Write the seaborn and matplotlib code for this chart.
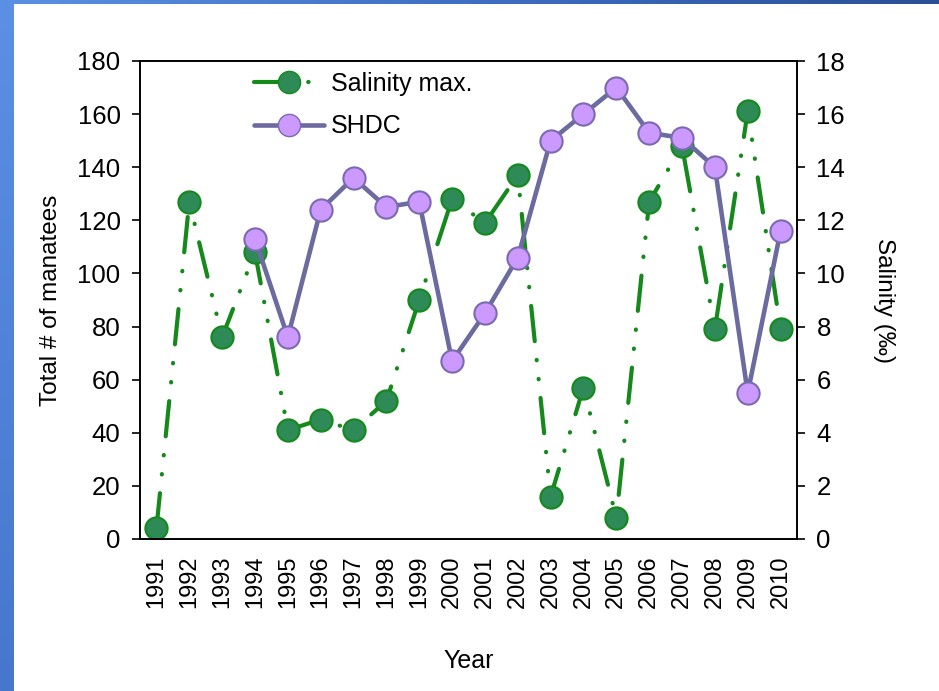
import numpy as np
import pandas as pd
import seaborn as sns
import matplotlib.pyplot as plt
from matplotlib.lines import Line2D
from matplotlib.colors import LinearSegmentedColormap

# data
years = [str(y) for y in range(1991, 2011)]
salinity_max = [0.4, 12.7, 7.6, 10.8, 4.1, 4.5, 4.1, 5.2, 9.0, 12.8,
                11.9, 13.7, 1.6, 5.7, 0.8, 12.7, 14.8, 7.9, 16.1, 7.9]
shdc_years = [str(y) for y in range(1994, 2011)]
shdc = [113, 76, 124, 136, 125, 127, 67, 85, 106, 150,
        160, 170, 153, 151, 140, 55, 116]

sal_df = pd.DataFrame({"pos": np.arange(len(years)), "val": salinity_max})
shdc_df = pd.DataFrame({"pos": [years.index(y) for y in shdc_years], "val": shdc})

sns.set_style("white")
plt.rcParams["font.family"] = ["Liberation Sans", "DejaVu Sans"]
plt.rcParams.update({"text.color": "black", "axes.labelcolor": "black",
                     "xtick.color": "black", "ytick.color": "black"})

fig = plt.figure(figsize=(9.39, 6.91), dpi=100, facecolor="white")

# slide background strips (blue gradient)
grad = np.linspace(0, 1, 256)
left_strip = fig.add_axes([0, 0, 14 / 939, 1])
left_strip.imshow(grad.reshape(-1, 1), aspect="auto",
                  cmap=LinearSegmentedColormap.from_list("l", ["#5b90e4", "#4677cc"]))
left_strip.axis("off")
top_strip = fig.add_axes([0, 1 - 4 / 691, 1, 4 / 691])
top_strip.imshow(grad.reshape(1, -1), aspect="auto",
                 cmap=LinearSegmentedColormap.from_list(
                     "t", ["#5b90e4", "#3f6fc4", "#2a4f96"]))
top_strip.axis("off")

ax = fig.add_axes([140 / 939, 1 - 539 / 691, 657 / 939, 478 / 691])
ax2 = ax.twinx()

green_line = "#15891c"
green_face = "#2e8b57"
purple_line = "#6b6b9f"
purple_face = "#cc99ff"
purple_edge = "#7a6bb0"

dash = (0, (8.5, 4.5, 0.1, 4.5, 0.1, 4.5))
sns.lineplot(data=sal_df, x="pos", y="val", ax=ax2, color=green_line,
             linewidth=3.0, linestyle=dash, dash_capstyle="round",
             marker="o", markersize=16, markerfacecolor=green_face,
             markeredgecolor=green_line, markeredgewidth=1.5)
sns.lineplot(data=shdc_df, x="pos", y="val", ax=ax, color=purple_line,
             linewidth=3.3, marker="o", markersize=16,
             markerfacecolor=purple_face, markeredgecolor=purple_edge,
             markeredgewidth=1.5)

ax.set_zorder(ax2.get_zorder() + 1)
ax.patch.set_visible(False)

ax.set_xlim(-0.5, len(years) - 0.5)
ax.set_ylim(0, 180)
ax2.set_ylim(0, 18)
ax.set_yticks(range(0, 181, 20))
ax2.set_yticks(range(0, 19, 2))

ax.set_xticks(np.arange(len(years)))
ax.set_xticklabels(years, rotation=90)
ax.set_xticks(np.arange(-0.5, len(years), 1), minor=True)
ax.tick_params(axis="x", which="major", length=0, pad=12, labelsize=17)
ax.tick_params(axis="x", which="minor", length=6, width=1.2, direction="out",
               color="black")
ax.tick_params(axis="y", length=6, width=1.2, direction="out", labelsize=18.5,
               left=True, color="black", pad=8)
ax2.tick_params(axis="y", length=6, width=1.2, direction="out", labelsize=18.5,
                right=True, color="black", pad=8)

for a in (ax, ax2):
    for s in a.spines.values():
        s.set_color("black")
        s.set_linewidth(1.2)

ax.set_xlabel("Year", fontsize=18, labelpad=29)
ax.set_ylabel("Total # of manatees", fontsize=17.5, labelpad=11)
ax2.set_ylabel("Salinity (‰)", fontsize=17.5, rotation=-90, labelpad=36)

handles = [
    Line2D([], [], color=green_line, linewidth=3.0, linestyle=dash,
           dash_capstyle="round", marker="o", markersize=16,
           markerfacecolor=green_face, markeredgecolor=green_line),
    Line2D([], [], color=purple_line, linewidth=3.3, marker="o", markersize=16,
           markerfacecolor=purple_face, markeredgecolor=purple_edge),
]
ax.legend(handles, ["Salinity max.", "SHDC"], loc="upper left",
          bbox_to_anchor=(0.14, 1.025), frameon=False, fontsize=18,
          handlelength=2.8, handletextpad=0.25, labelspacing=0.75)

fig.savefig("out.png", dpi=100, facecolor="white")
